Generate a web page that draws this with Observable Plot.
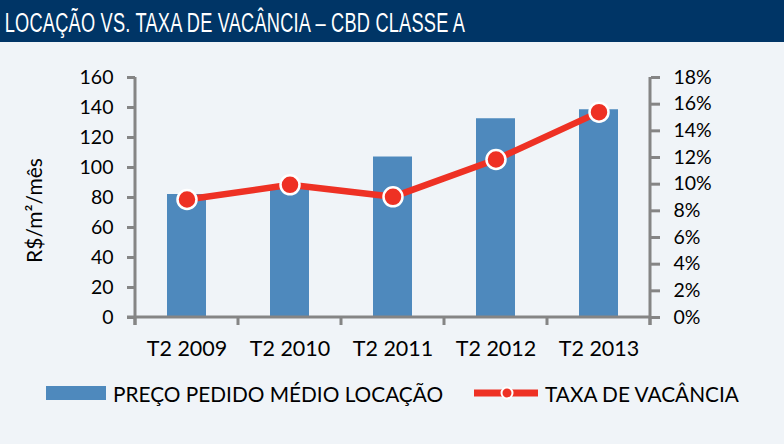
<!DOCTYPE html>
<html>
<head>
<meta charset="utf-8">
<script src="https://cdn.jsdelivr.net/npm/d3@7"></script>
<script src="https://cdn.jsdelivr.net/npm/@observablehq/plot@0.6"></script>
<style>
  html, body { margin: 0; padding: 0; background: #f0f4f8; }
  #wrap { position: relative; width: 784px; height: 444px; background: #f0f4f8; overflow: hidden; font-family: Lato, "Open Sans", sans-serif; }
  #titlebar { height: 42px; background: #003566; overflow: hidden; }
  #title { display: inline-block; color: #fff; font-family: "Liberation Sans", Arial, sans-serif; font-size: 27px; line-height: 46px; padding-left: 7px; white-space: nowrap; letter-spacing: 0.3px; transform: scaleX(0.675); transform-origin: 0 50%; }
  #legend { position: absolute; left: 0; top: 378px; width: 784px; height: 30px; font-size: 20.8px; color: #000; }
  #legend .item { position: absolute; top: 0; display: flex; align-items: center; height: 30px; white-space: nowrap; }
</style>
</head>
<body>
<div id="wrap">
  <div id="titlebar"><div id="title">LOCAÇÃO VS. TAXA DE VACÂNCIA – CBD CLASSE A</div></div>
  <div id="chart"></div>
  <div id="legend"></div>
</div>
<script>
const categories = ["T2 2009", "T2 2010", "T2 2011", "T2 2012", "T2 2013"];
const precoValues = [82, 88, 107, 132.5, 138.5];
const vacanciaValues = [8.85, 9.95, 9.05, 11.85, 15.4];
const leftTicks = [0, 20, 40, 60, 80, 100, 120, 140, 160];
const rightTicks = [0, 2, 4, 6, 8, 10, 12, 14, 16, 18];
const seriesNames = ["PREÇO PEDIDO MÉDIO LOCAÇÃO", "TAXA DE VACÂNCIA"];
const yLabel = "R$/m²/mês";

const barColor = "#4e89bd";
const lineColor = "#ee3124";
const axisColor = "#858585";
const leftMax = 160, rightMax = 18;
const toLeft = v => v * leftMax / rightMax;

const data = categories.map((c, i) => ({cat: c, preco: precoValues[i], vac: toLeft(vacanciaValues[i])}));

// custom mark: axis lines and category boundary ticks computed from scales
function axisLines(index, scales, values, dims) {
  const {x, y} = scales;
  const g = d3.create("svg:g").attr("stroke", axisColor).attr("stroke-width", 3).attr("fill", "none");
  const y0 = y(0), yTop = y(leftMax);
  const left = dims.marginLeft, right = dims.width - dims.marginRight;
  const ext = 8;
  g.append("line").attr("x1", left).attr("x2", left).attr("y1", yTop).attr("y2", y0 + ext);
  g.append("line").attr("x1", right).attr("x2", right).attr("y1", yTop).attr("y2", y0 + ext);
  g.append("line").attr("x1", left - ext).attr("x2", right).attr("y1", y0).attr("y2", y0);
  const step = x.step(), bw = x.bandwidth();
  const bounds = categories.map(c => x(c) - (step - bw) / 2);
  bounds.push(bounds[bounds.length - 1] + step);
  bounds.forEach(b => g.append("line").attr("x1", b).attr("x2", b).attr("y1", y0).attr("y2", y0 + ext));
  return g.node();
}

const chart = Plot.plot({
  width: 784,
  height: 330,
  marginLeft: 135,
  marginRight: 134,
  marginTop: 35,
  marginBottom: 55,
  style: {background: "transparent", fontFamily: "Lato, 'Open Sans', sans-serif", fontSize: "19.5px", color: "#000", overflow: "visible"},
  x: {domain: categories, paddingInner: 0.62, paddingOuter: 0.31, axis: null},
  y: {domain: [0, leftMax], axis: null},
  marks: [
    Plot.barY(data, {x: "cat", y: "preco", fill: barColor}),
    axisLines,
    Plot.axisY(leftTicks, {anchor: "left", tickSize: 8, tickPadding: 14, stroke: axisColor, strokeWidth: 3, fill: "#000", fontSize: 19.5, label: null}),
    Plot.axisY(rightTicks.map(toLeft), {anchor: "right", tickSize: 9, tickPadding: 14, stroke: axisColor, strokeWidth: 3, fill: "#000", fontSize: 19.5, label: null, tickFormat: d => Math.round(d * rightMax / leftMax) + "%"}),
    Plot.axisX(categories, {anchor: "bottom", tickSize: 0, tickPadding: 23, fill: "#000", fontSize: 21.5, label: null}),
    Plot.text([yLabel], {frameAnchor: "left", textAnchor: "middle", dx: -100, dy: 13, rotate: -90, fontSize: 21, fill: "#000"}),
    Plot.line(data, {x: "cat", y: "vac", stroke: lineColor, strokeWidth: 6.5}),
    Plot.dot(data, {x: "cat", y: "vac", r: 9.5, fill: lineColor, stroke: "#fff", strokeWidth: 2.5})
  ]
});
document.getElementById("chart").appendChild(chart);

// legend
const legend = d3.select("#legend");
const it1 = legend.append("div").attr("class", "item").style("left", "46px");
it1.append("svg").attr("width", 62).attr("height", 14).style("margin-right", "5px")
  .append("rect").attr("x", 0).attr("y", 0).attr("width", 60).attr("height", 14).attr("fill", barColor);
it1.append("span").text(seriesNames[0]);
const it2 = legend.append("div").attr("class", "item").style("left", "474px");
const s2 = it2.append("svg").attr("width", 66).attr("height", 14).style("margin-right", "5px");
s2.append("line").attr("x1", 0).attr("x2", 64).attr("y1", 7).attr("y2", 7).attr("stroke", lineColor).attr("stroke-width", 7);
s2.append("circle").attr("cx", 33).attr("cy", 7).attr("r", 5.5).attr("fill", lineColor).attr("stroke", "#fff").attr("stroke-width", 2);
it2.append("span").text(seriesNames[1]);
</script>
</body>
</html>
